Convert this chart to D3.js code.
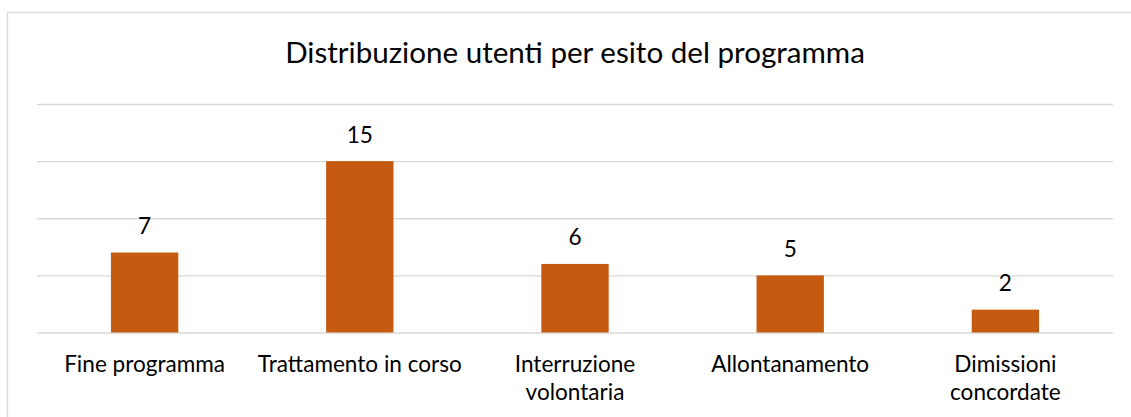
<!DOCTYPE html>
<html>
<head>
<meta charset="utf-8">
<script src="https://cdn.jsdelivr.net/npm/d3@7"></script>
<style>
  html, body { margin: 0; padding: 0; background: #fff; }
  svg { display: block; }
  text { font-family: Lato, "Open Sans", sans-serif; fill: #000; }
</style>
</head>
<body>
<svg id="chart" width="1131" height="417"></svg>
<script>
const title = "Distribuzione utenti per esito del programma";
const categories = ["Fine programma", "Trattamento in corso", "Interruzione volontaria", "Allontanamento", "Dimissioni concordate"];
const values = [7, 15, 6, 5, 2];
const yTicks = [0, 5, 10, 15, 20];

const W = 1131, H = 417;
const margin = { left: 37, right: 18, top: 104, bottom: 84.5 };
const svg = d3.select("#chart");

// chart frame
svg.append("rect")
  .attr("x", 7.5).attr("y", 12.5)
  .attr("width", 1200).attr("height", 600)
  .attr("fill", "none").attr("stroke", "#d9d9d9").attr("stroke-width", 1.3);

function fitSize(str, target, weight) {
  const t = svg.append("text").attr("font-size", 100).attr("font-weight", weight || 400).text(str);
  const w = t.node().getComputedTextLength();
  t.remove();
  return 100 * target / w;
}

const titleSize = fitSize(title, 580);
const labelSize = fitSize("Trattamento in corso", 204);

const x = d3.scaleBand().domain(categories).range([margin.left, W - margin.right]).paddingInner(0).paddingOuter(0);
const y = d3.scaleLinear().domain([0, 20]).range([H - margin.bottom, margin.top]);

// gridlines
const grid = svg.append("g")
  .attr("transform", `translate(${margin.left},0)`)
  .call(d3.axisLeft(y).tickValues(yTicks).tickSize(-(W - margin.left - margin.right)).tickFormat(""));
grid.select(".domain").remove();
grid.selectAll(".tick line").attr("stroke", "#d9d9d9").attr("stroke-width", 1.3);

// title
svg.append("text")
  .attr("x", (margin.left + W - margin.right) / 2)
  .attr("y", 62.7)
  .attr("text-anchor", "middle")
  .attr("font-size", titleSize)
  .text(title);

// bars
const bw = x.bandwidth() * 0.313;
svg.append("g").selectAll("rect")
  .data(values)
  .join("rect")
  .attr("x", (d, i) => x(categories[i]) + x.bandwidth() / 2 - bw / 2)
  .attr("y", d => y(d))
  .attr("width", bw)
  .attr("height", d => y(0) - y(d))
  .attr("fill", "#c55a11");

// value labels
svg.append("g").selectAll("text")
  .data(values)
  .join("text")
  .attr("x", (d, i) => x(categories[i]) + x.bandwidth() / 2)
  .attr("y", d => y(d) - 18.5)
  .attr("text-anchor", "middle")
  .attr("font-size", labelSize)
  .text(d => d);

// category labels (wrapped)
const maxW = 207;
categories.forEach(cat => {
  const t = svg.append("text")
    .attr("x", x(cat) + x.bandwidth() / 2)
    .attr("y", 371.5)
    .attr("text-anchor", "middle")
    .attr("font-size", labelSize);
  const words = cat.split(" ");
  let lines = [], line = [];
  const probe = svg.append("text").attr("font-size", labelSize);
  words.forEach(w => {
    const test = line.concat([w]).join(" ");
    probe.text(test);
    if (probe.node().getComputedTextLength() > maxW && line.length) {
      lines.push(line.join(" "));
      line = [w];
    } else {
      line.push(w);
    }
  });
  lines.push(line.join(" "));
  probe.remove();
  lines.forEach((l, i) => {
    t.append("tspan")
      .attr("x", x(cat) + x.bandwidth() / 2)
      .attr("dy", i === 0 ? 0 : 28.5)
      .text(l);
  });
});
</script>
</body>
</html>
